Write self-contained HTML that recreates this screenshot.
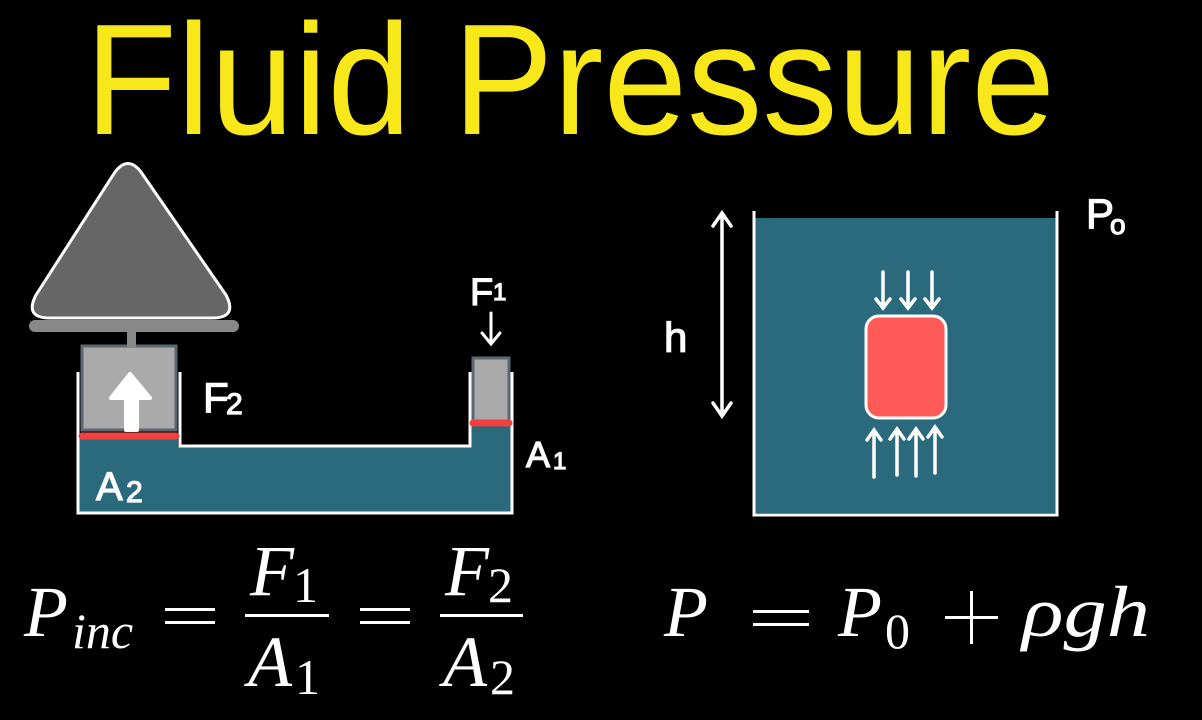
<!DOCTYPE html>
<html><head><meta charset="utf-8"><style>
html,body{margin:0;padding:0;background:#000;width:1202px;height:720px;overflow:hidden}
svg{display:block}
.m{font-family:"Liberation Serif",serif;font-style:italic;fill:#fff}
.r{font-family:"Liberation Serif",serif;fill:#fff}
.h{font-family:"Liberation Sans",sans-serif;fill:#fff;stroke:#fff;stroke-width:1.2}
</style></head><body>
<svg width="1202" height="720" viewBox="0 0 1202 720" xmlns="http://www.w3.org/2000/svg">
<rect width="1202" height="720" fill="#000"/>
<text x="85" y="134" font-family="Liberation Sans, sans-serif" font-size="158" fill="#f8e81a" textLength="970" lengthAdjust="spacingAndGlyphs">Fluid Pressure</text>

<!-- Left hydraulic -->
<path d="M78,438 H178 V447 H470 V425 H512 V513 H78 Z" fill="#2a6a7c"/>
<path d="M78,372 V513 H512 V372" fill="none" stroke="#fff" stroke-width="3"/>
<path d="M180,372 V446 H470 V372" fill="none" stroke="#fff" stroke-width="3"/>
<rect x="82" y="346" width="94" height="84" fill="#aaa" stroke="#5b6770" stroke-width="3"/>
<line x1="82" y1="436" x2="176" y2="436" stroke="#f04040" stroke-width="7" stroke-linecap="round"/>
<rect x="473" y="358" width="36" height="63" fill="#aaa" stroke="#5b6770" stroke-width="3"/>
<line x1="473" y1="423" x2="509" y2="423" stroke="#f04040" stroke-width="7" stroke-linecap="round"/>
<path d="M126,430 V398 H111 L130,374 L150,398 H137 V430 Z" fill="#fff" stroke="#fff" stroke-width="4" stroke-linejoin="round"/>
<rect x="127" y="330" width="9" height="18" fill="#888"/>
<rect x="29" y="320" width="210" height="12" rx="6" fill="#888"/>
<path d="M115,172 Q128,155 141,172 L226,295 Q238,318 212,318 H50 Q24,318 36,295 Z" fill="#666" stroke="#fff" stroke-width="3" stroke-linejoin="round"/>
<text class="h" x="203" y="412" font-size="42">F</text><text class="h" x="226" y="414" font-size="30">2</text>
<text class="h" x="96" y="500" font-size="40">A</text><text class="h" x="126" y="502" font-size="30">2</text>
<text class="h" x="470" y="305" font-size="38">F</text><text class="h" x="493" y="300" font-size="24">1</text>
<path d="M491,313 V344 M482,333 L491,344 L500,333" stroke="#fff" stroke-width="3" fill="none" stroke-linecap="round"/>
<text class="h" x="526" y="467" font-size="36">A</text><text class="h" x="553" y="469" font-size="24">1</text>

<!-- Right tank -->
<rect x="755" y="218" width="301" height="295" fill="#2a6a7c"/>
<path d="M754,211 V515 H1057 V211" fill="none" stroke="#fff" stroke-width="3"/>
<rect x="866" y="316" width="80" height="102" rx="13" fill="#fd5a58" stroke="#fff" stroke-width="3"/>
<g stroke="#fff" stroke-width="3.5" fill="none" stroke-linecap="round">
<path d="M883,272 V307 M876,299 L883,308 L890,299"/>
<path d="M908,272 V307 M901,299 L908,308 L915,299"/>
<path d="M932,272 V307 M925,299 L932,308 L939,299"/>
<path d="M874,477 V431 M867,440 L874,430 L881,440"/>
<path d="M897,475 V430 M890,439 L897,429 L904,439"/>
<path d="M916,476 V430 M909,439 L916,429 L923,439"/>
<path d="M935,473 V428 M928,437 L935,427 L942,437"/>
<path d="M722,214 V415 M713,226 L722,213 L731,226 M713,403 L722,416 L731,403"/>
</g>
<text class="h" x="664" y="352" font-size="42">h</text>
<text class="h" x="1086" y="228" font-size="42">P</text><text class="h" x="1110" y="234" font-size="28">o</text>

<!-- Equations -->
<text class="m" x="24" y="636" font-size="72">P</text>
<text class="m" x="72" y="648" font-size="50">inc</text>
<rect x="165" y="608" width="50" height="3" fill="#fff"/><rect x="165" y="621" width="50" height="3" fill="#fff"/>
<text class="m" x="250" y="595" font-size="72">F</text><text class="r" x="293" y="602" font-size="50">1</text>
<rect x="245" y="614" width="84" height="3" fill="#fff"/>
<text class="m" x="248" y="686" font-size="72">A</text><text class="r" x="295" y="694" font-size="50">1</text>
<rect x="360" y="608" width="50" height="3" fill="#fff"/><rect x="360" y="621" width="50" height="3" fill="#fff"/>
<text class="m" x="445" y="595" font-size="72">F</text><text class="r" x="488" y="602" font-size="50">2</text>
<rect x="440" y="614" width="83" height="3" fill="#fff"/>
<text class="m" x="443" y="686" font-size="72">A</text><text class="r" x="490" y="694" font-size="50">2</text>

<text class="m" x="664" y="636" font-size="72">P</text>
<rect x="753" y="610" width="56" height="3" fill="#fff"/><rect x="753" y="623" width="56" height="3" fill="#fff"/>
<text class="m" x="838" y="636" font-size="72">P</text><text class="r" x="885" y="648" font-size="50">0</text>
<rect x="945" y="616" width="53" height="3" fill="#fff"/><rect x="970" y="591" width="3" height="53" fill="#fff"/>
<text class="m" x="1022" y="636" font-size="72" textLength="128" lengthAdjust="spacingAndGlyphs">ρgh</text>
</svg>
</body></html>
